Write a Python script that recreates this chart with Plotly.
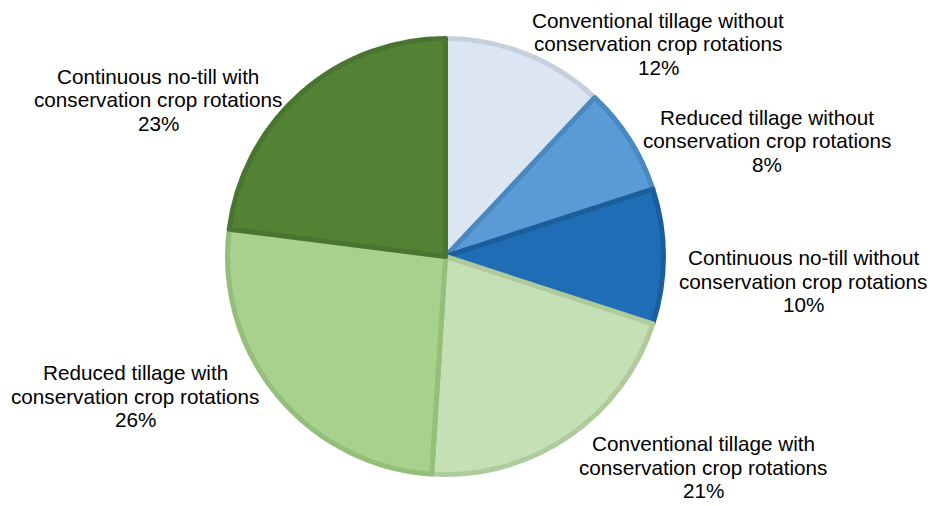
import plotly.graph_objects as go

W, H = 930, 506

categories = [
    "Conventional tillage without<br>conservation crop rotations",
    "Reduced tillage without<br>conservation crop rotations",
    "Continuous no-till without<br>conservation crop rotations",
    "Conventional tillage with<br>conservation crop rotations",
    "Reduced tillage with<br>conservation crop rotations",
    "Continuous no-till with<br>conservation crop rotations",
]
values = [12, 8, 10, 21, 26, 23]
fill_colors = ["#DCE6F2", "#5B9BD5", "#1F6EB5", "#C5E0B4", "#A9D18E", "#548235"]
border_colors = ["#C5D0DE", "#4A88C2", "#1A5E9C", "#AFCB9E", "#95BE7B", "#4A7530"]

# label centres in pixels (layout only)
label_pos = [(658, 44), (767, 141), (803, 281), (703, 467), (135, 396), (158, 100)]
line_gap = 23.5

cx, cy, r = 445.5, 256.5, 218

fig = go.Figure()
fig.add_trace(go.Pie(
    labels=categories,
    values=values,
    sort=False,
    direction="clockwise",
    rotation=0,
    textinfo="none",
    hoverinfo="label+percent",
    showlegend=False,
    marker=dict(colors=fill_colors, line=dict(color=border_colors, width=5)),
    domain=dict(x=[(cx - r) / W, (cx + r) / W], y=[(H - cy - r) / H, (H - cy + r) / H]),
))

for cat, v, (px, py) in zip(categories, values, label_pos):
    lines = cat.split("<br>") + [f"{v}%"]
    n = len(lines)
    for k, ln in enumerate(lines):
        yy = py + (k - (n - 1) / 2) * line_gap
        fig.add_annotation(
            x=px / W, y=1 - yy / H, xref="paper", yref="paper",
            text=ln, showarrow=False,
            xanchor="center", yanchor="middle", align="center",
            font=dict(family="Liberation Sans, Arial, sans-serif", size=20.7, color="#000000"),
        )

fig.update_layout(
    width=W, height=H,
    margin=dict(l=0, r=0, t=0, b=0),
    paper_bgcolor="white", plot_bgcolor="white",
)

fig.write_html("out.html", config={"displayModeBar": False},
               post_script="document.body.style.margin='0';")
